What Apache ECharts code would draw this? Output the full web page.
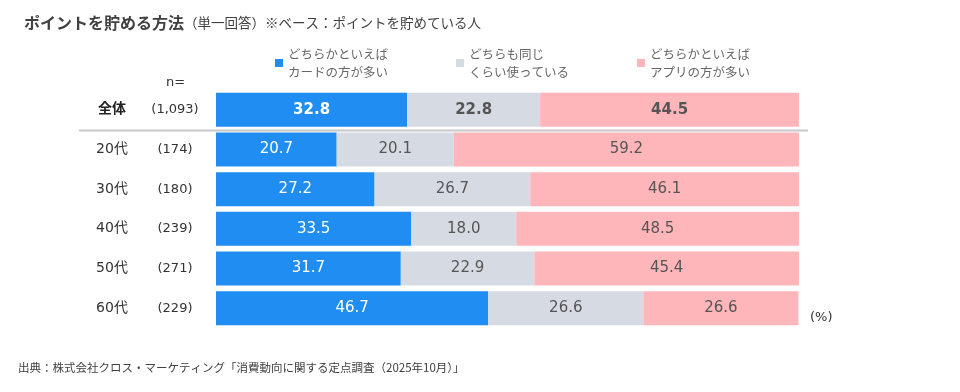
<!DOCTYPE html>
<html><head><meta charset="utf-8">
<script src="https://cdn.jsdelivr.net/npm/echarts@6/dist/echarts.min.js"></script>
<style>html,body{margin:0;padding:0;background:#fff}#c{width:960px;height:392px}</style>
</head><body><div id="c"></div>
<script>
const categories = ['全体','20代','30代','40代','50代','60代'];
const sampleSizes = ['(1,093)','(174)','(180)','(239)','(271)','(229)'];
const seriesNames = ['どちらかといえば\nカードの方が多い','どちらも同じ\nくらい使っている','どちらかといえば\nアプリの方が多い'];
const cardMore = [32.8,20.7,27.2,33.5,31.7,46.7];
const sameUse = [22.8,20.1,26.7,18.0,22.9,26.6];
const appMore = [44.5,59.2,46.1,48.5,45.4,26.6];

const JP = "'Noto Sans CJK JP', sans-serif";
const NUM = "'DejaVu Sans', 'Noto Sans CJK JP', sans-serif";
const colors = ['#1F8DF2','#D6DBE3','#FFB6BA'];
const labelColors = ['#ffffff','#555555','#555555'];

function mkData(vals){
  return vals.map((v,i)=> i===0 ? {value:v,label:{fontWeight:'bold'}} : v);
}
function mkSeries(name, vals, idx){
  return {
    name: name, type:'bar', stack:'t', barWidth:34,
    data: mkData(vals),
    itemStyle:{color:colors[idx]},
    label:{show:true, position:'inside', color:labelColors[idx], fontSize:15, fontFamily:NUM,
      formatter: p => Number(p.value).toFixed(1)},
    emphasis:{disabled:true}
  };
}

const chart = echarts.init(document.getElementById('c'), null, {renderer:'canvas'});
chart.setOption({
  animation:false,
  title:[
    {left:19, top:10, text:'{b|ポイントを貯める方法}{n|（単一回答）※ベース：ポイントを貯めている人}',
     textStyle:{rich:{
       b:{fontSize:16, fontWeight:'bold', color:'#404040', fontFamily:JP},
       n:{fontSize:13.5, fontWeight:'normal', color:'#404040', fontFamily:JP}}}},
    {left:13, top:357, text:'出典：株式会社クロス・マーケティング「消費動向に関する定点調査（2025年10月）」',
     textStyle:{fontSize:11.5, fontWeight:'normal', color:'#404040', fontFamily:JP}},
    {left:161, top:71, text:'n=', textStyle:{fontSize:13, fontWeight:'normal', color:'#333', fontFamily:NUM}},
    {left:805, top:306, text:'(%)', textStyle:{fontSize:13, fontWeight:'normal', color:'#333', fontFamily:NUM}}
  ],
  legend:{
    left:270, top:40, itemWidth:8, itemHeight:8, itemGap:68, icon:'rect',
    selectedMode:false,
    textStyle:{fontSize:12.5, color:'#666', fontFamily:JP, lineHeight:18},
    data: seriesNames
  },
  grid:{left:216, right:161, top:90, bottom:64, containLabel:false},
  xAxis:{type:'value', min:0, max:100, show:false},
  yAxis:{
    type:'category', inverse:true, data:categories,
    axisLine:{show:false}, axisTick:{show:false}, splitLine:{show:false},
    axisLabel:{
      align:'left', margin:136,
      formatter:(v, i)=> i===0 ? '{ab|'+v+'}{n|'+sampleSizes[i]+'}' : '{a|'+v+'}{n|'+sampleSizes[i]+'}',
      rich:{
        ab:{width:64, align:'center', fontSize:14, fontWeight:'bold', color:'#222', fontFamily:NUM},
        a:{width:64, align:'center', fontSize:14, color:'#333', fontFamily:NUM},
        n:{width:62, align:'center', fontSize:13, color:'#333', fontFamily:NUM}
      }
    }
  },
  series:[
    mkSeries(seriesNames[0], cardMore, 0),
    mkSeries(seriesNames[1], sameUse, 1),
    mkSeries(seriesNames[2], appMore, 2)
  ]
});
const ya = chart.convertToPixel({yAxisIndex:0}, categories[0]);
const yb = chart.convertToPixel({yAxisIndex:0}, categories[1]);
const ym = Math.round((ya+yb)/2)+0.5;
chart.setOption({graphic:[{type:'line', shape:{x1:79, y1:ym, x2:808, y2:ym},
  style:{stroke:'#C8C8C8', lineWidth:2}}]});
</script></body></html>
